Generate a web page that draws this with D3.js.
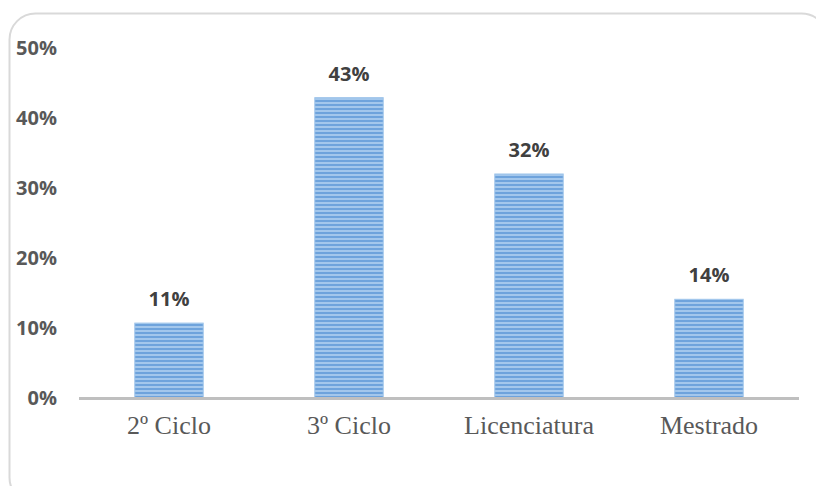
<!DOCTYPE html>
<html>
<head>
<meta charset="utf-8">
<script src="https://cdn.jsdelivr.net/npm/d3@7"></script>
<style>
  body { margin: 0; background: #fff; }
  svg { display: block; }
</style>
</head>
<body>
<svg id="chart" width="816" height="486"></svg>
<script>
const categories = ["2º Ciclo", "3º Ciclo", "Licenciatura", "Mestrado"];
const values = [0.107, 0.429, 0.320, 0.141];
const labels = ["11%", "43%", "32%", "14%"];
const yTicks = [0, 0.1, 0.2, 0.3, 0.4, 0.5];

const svg = d3.select("#chart");
const margin = { left: 79, right: 17, top: 48, bottom: 88 };
const width = 816;
const height = 486;

// frame with rounded corners
svg.append("rect")
  .attr("x", 9.5).attr("y", 13.5)
  .attr("width", 818).attr("height", 490)
  .attr("rx", 26)
  .attr("fill", "#fff")
  .attr("stroke", "#d9d9d9")
  .attr("stroke-width", 2);

// striped fill
const defs = svg.append("defs");
const pat = defs.append("pattern")
  .attr("id", "stripes")
  .attr("patternUnits", "userSpaceOnUse")
  .attr("width", 8).attr("height", 4);
pat.append("rect").attr("width", 8).attr("height", 4).attr("fill", "#a3c7ec");
pat.append("rect").attr("y", 0).attr("width", 8).attr("height", 2).attr("fill", "#6ea3dc");

const x = d3.scaleBand()
  .domain(categories)
  .range([margin.left, width - margin.right])
  .paddingInner(0.62)
  .paddingOuter(0.31);

const y = d3.scaleLinear()
  .domain([0, 0.5])
  .range([height - margin.bottom, margin.top]);

// y axis labels
svg.append("g")
  .selectAll("text")
  .data(yTicks)
  .join("text")
  .attr("x", 57)
  .attr("y", d => y(d))
  .attr("dy", "0.35em")
  .attr("text-anchor", "end")
  .attr("font-family", "'Open Sans', sans-serif")
  .attr("font-weight", "bold")
  .attr("font-size", 20)
  .attr("fill", "#595959")
  .text(d3.format(".0%"));

// bars
svg.append("g")
  .selectAll("rect")
  .data(values)
  .join("rect")
  .attr("x", (d, i) => x(categories[i]))
  .attr("y", d => y(d))
  .attr("width", x.bandwidth())
  .attr("height", d => y(0) - y(d))
  .attr("fill", "url(#stripes)")
  .attr("stroke", "#9cc3ea")
  .attr("stroke-width", 1);

// baseline
svg.append("line")
  .attr("x1", margin.left).attr("x2", width - margin.right)
  .attr("y1", y(0) + 0.5).attr("y2", y(0) + 0.5)
  .attr("stroke", "#bfbfbf")
  .attr("stroke-width", 3);

// value labels
svg.append("g")
  .selectAll("text")
  .data(values)
  .join("text")
  .attr("x", (d, i) => x(categories[i]) + x.bandwidth() / 2)
  .attr("y", d => y(d) - 24)
  .attr("dy", "0.35em")
  .attr("text-anchor", "middle")
  .attr("font-family", "'Open Sans', sans-serif")
  .attr("font-weight", "bold")
  .attr("font-size", 20)
  .attr("fill", "#404040")
  .text((d, i) => labels[i]);

// category labels
svg.append("g")
  .selectAll("text")
  .data(categories)
  .join("text")
  .attr("x", d => x(d) + x.bandwidth() / 2)
  .attr("y", y(0) + 27)
  .attr("dy", "0.35em")
  .attr("text-anchor", "middle")
  .attr("font-family", "'Liberation Serif', serif")
  .attr("font-size", 26)
  .attr("fill", "#595959")
  .text(d => d);
</script>
</body>
</html>
